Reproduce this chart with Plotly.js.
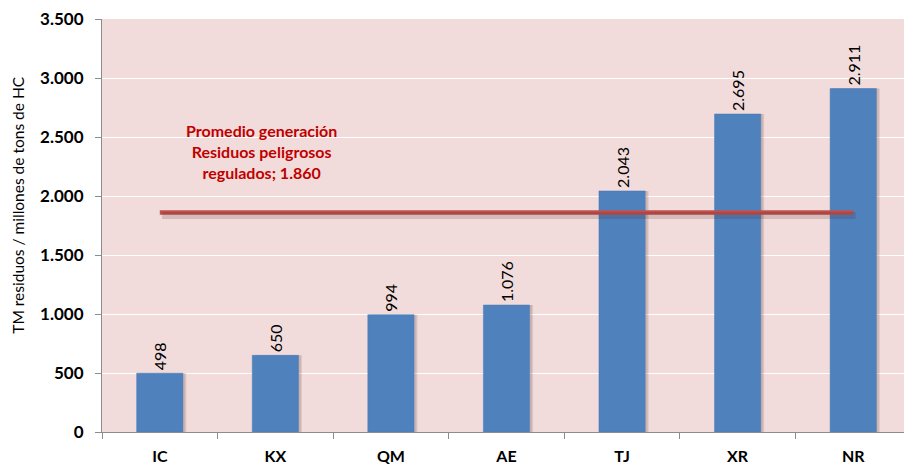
<!DOCTYPE html>
<html>
<head>
<meta charset="utf-8">
<script src="https://cdn.plot.ly/plotly-3.0.1.min.js"></script>
<style>
  html, body { margin: 0; padding: 0; overflow: hidden; background: #fff; }
  #chart { width: 912px; height: 466px; }
</style>
</head>
<body>
<div id="chart"></div>
<script>
// Chart data
const categories = ['IC', 'KX', 'QM', 'AE', 'TJ', 'XR', 'NR'];
const residuos = [498, 650, 994, 1076, 2043, 2695, 2911];
const promedio = 1860;
const promedioEnds = ['IC', 'NR'];
const yTicks = [0, 500, 1000, 1500, 2000, 2500, 3000, 3500];

const FONT = 'Lato, "Open Sans", sans-serif';

// Soft shadow under the bars (two faint layers)
function shadowTrace(off, alpha) {
    return {
        type: 'bar',
        x: categories,
        y: residuos,
        width: 0.4,
        offset: off,
        marker: { color: 'rgba(70,40,40,' + alpha + ')' },
        hoverinfo: 'skip',
        showlegend: false
    };
}

const bars = {
    type: 'bar',
    x: categories,
    y: residuos,
    width: 0.4,
    offset: -0.2,
    marker: { color: '#4F81BD', line: { color: '#4A7AB5', width: 0.5 } },
    text: residuos.map(v => v.toLocaleString('de-DE')),
    textposition: 'outside',
    textangle: -90,
    cliponaxis: false,
    constraintext: 'none',
    textfont: { family: FONT, size: 16, color: '#000' },
    showlegend: false
};

// Average line with a soft shadow
const lineShadow = {
    type: 'scatter',
    mode: 'lines',
    x: promedioEnds,
    y: [promedio, promedio],
    line: { color: 'rgba(80,40,40,0.18)', width: 7 },
    xaxis: 'x2',
    yaxis: 'y2',
    hoverinfo: 'skip',
    showlegend: false
};

const avgLine = {
    type: 'scatter',
    mode: 'lines',
    x: promedioEnds,
    y: [promedio, promedio],
    line: { color: '#C0504D', width: 4.5 },
    showlegend: false
};

const layout = {
    width: 912,
    height: 466,
    margin: { l: 102, r: 1, t: 19, b: 34 },
    paper_bgcolor: '#fff',
    plot_bgcolor: '#F2DCDB',
    barmode: 'overlay',
    separators: ',.',
    font: { family: FONT, color: '#000' },
    xaxis: {
        type: 'category',
        categoryorder: 'array',
        categoryarray: categories,
        range: [-0.5, 6.5],
        showline: true,
        linecolor: '#8C8C8C',
        ticks: 'outside',
        ticklen: 6,
        tickcolor: '#8C8C8C',
        tickson: 'boundaries',
        ticklabelstandoff: 10,
        showgrid: false,
        tickfont: { family: FONT, size: 16, color: '#000', weight: 'bold' }
    },
    xaxis2: {
        type: 'category',
        categoryorder: 'array',
        categoryarray: categories,
        range: [-0.52, 6.48],
        overlaying: 'x',
        visible: false
    },
    yaxis: {
        range: [0, 3500],
        tickvals: yTicks,
        tickformat: ',d',
        showline: true,
        linecolor: '#8C8C8C',
        ticks: 'outside',
        ticklen: 6,
        tickcolor: '#8C8C8C',
        ticklabelstandoff: 8,
        gridcolor: '#FFFFFF',
        gridwidth: 1,
        zeroline: false,
        tickfont: { family: FONT, size: 17, color: '#000', weight: 'bold' }
    },
    yaxis2: {
        range: [25, 3525],
        overlaying: 'y',
        visible: false
    },
    annotations: [{
        xref: 'x',
        yref: 'y',
        x: 0.88,
        y: 2376,
        text: 'Promedio generación<br>Residuos peligrosos<br>regulados; 1.860',
        showarrow: false,
        align: 'center',
        font: { family: FONT, size: 16, color: '#C00000', weight: 'bold' }
    }, {
        xref: 'paper',
        yref: 'paper',
        x: -0.104,
        y: 0.55,
        xanchor: 'center',
        yanchor: 'middle',
        textangle: -90,
        text: 'TM residuos / millones de tons de HC',
        showarrow: false,
        font: { family: FONT, size: 15.5, color: '#000' }
    }]
};

Plotly.newPlot('chart', [shadowTrace(-0.18, 0.12), shadowTrace(-0.17, 0.12), bars, lineShadow, avgLine], layout, { displayModeBar: false, staticPlot: true });
</script>
</body>
</html>
